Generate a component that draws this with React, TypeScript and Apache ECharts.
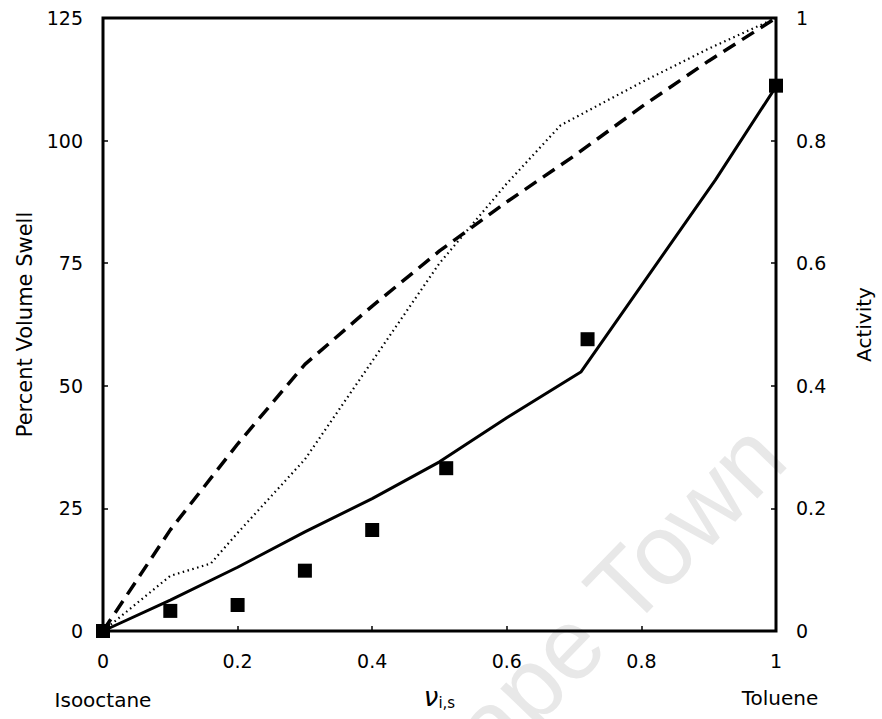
import React, { useEffect, useRef } from "react";
import * as echarts from "echarts";

// Measured percent volume swell (squares)
const xMeasured = [0, 0.1, 0.2, 0.3, 0.4, 0.51, 0.72, 1.0];
const swellMeasured = [0, 4.1, 5.3, 12.3, 20.6, 33.2, 59.5, 111.2];

// Predicted swell (solid line)
const xModel = [0, 0.1, 0.2, 0.3, 0.4, 0.5, 0.6, 0.71, 0.91, 1.0];
const swellModel = [0, 6.3, 13, 20.2, 27, 34.5, 43.5, 52.8, 92, 111];

// Activity (dashed line)
const xDashed = [0, 0.1, 0.2, 0.3, 0.4, 0.5, 0.6, 0.7, 0.8, 0.9, 1];
const activityDashed = [0, 0.165, 0.305, 0.435, 0.53, 0.62, 0.70, 0.775, 0.855, 0.93, 1];

// Activity (dotted line)
const xDotted = [0, 0.1, 0.16, 0.2, 0.3, 0.4, 0.5, 0.6, 0.68, 0.8, 0.9, 1];
const activityDotted = [0, 0.09, 0.11, 0.16, 0.28, 0.44, 0.60, 0.73, 0.825, 0.895, 0.95, 1];

const xTicks = { min: 0, max: 1, interval: 0.2 };
const swellTicks = { min: 0, max: 125, interval: 25 };
const activityTicks = { min: 0, max: 1, interval: 0.2 };

const FONT = "DejaVu Sans";

const zip = (xs: number[], ys: number[]) => xs.map((x, i) => [x, ys[i]]);

export default function App() {
  const ref = useRef<HTMLDivElement>(null);
  useEffect(() => {
    if (!ref.current) return;
    const chart = echarts.init(ref.current, null, { renderer: "svg" });
    const labelStyle = { color: "#000", fontSize: 19, fontFamily: FONT, margin: 20 };
    const tick = { show: true, inside: true, length: 5, lineStyle: { color: "#000", width: 1.5 } };
    chart.setOption({
      animation: false,
      backgroundColor: "#fff",
      grid: {
        left: 103,
        right: 102,
        top: 18,
        bottom: 88,
        show: true,
        borderColor: "#000",
        borderWidth: 3,
        containLabel: false,
      },
      xAxis: {
        type: "value",
        ...xTicks,
        name: "{v|ν}{s|i,s}",
        nameLocation: "middle",
        nameGap: 52,
        nameTextStyle: {
          rich: {
            v: { fontSize: 26, fontFamily: FONT, fontStyle: "italic", color: "#000" },
            s: { fontSize: 15, fontFamily: FONT, color: "#000", verticalAlign: "bottom", padding: [12, 0, 0, 0] },
          },
        },
        axisLine: { show: false },
        axisTick: tick,
        splitLine: { show: false },
        axisLabel: labelStyle,
      },
      yAxis: [
        {
          type: "value",
          ...swellTicks,
          name: "Percent Volume Swell",
          nameLocation: "middle",
          nameGap: 55,
          nameRotate: 90,
          nameTextStyle: { color: "#000", fontSize: 21, fontFamily: FONT },
          axisLine: { show: false },
          axisTick: tick,
          splitLine: { show: false },
          axisLabel: labelStyle,
        },
        {
          type: "value",
          position: "right",
          ...activityTicks,
          name: "Activity",
          nameLocation: "middle",
          nameGap: 78,
          nameRotate: 90,
          nameTextStyle: { color: "#000", fontSize: 20, fontFamily: FONT },
          axisLine: { show: false },
          axisTick: tick,
          splitLine: { show: false },
          axisLabel: labelStyle,
        },
      ],
      graphic: [
        {
          type: "text",
          x: 802,
          y: 474,
          rotation: (46 * Math.PI) / 180,
          z: -10,
          silent: true,
          style: {
            text: "Cape Town",
            fontSize: 100,
            fontFamily: "Liberation Sans",
            fill: "#e8e8e8",
            textAlign: "right",
            textVerticalAlign: "bottom",
          },
        },
        {
          type: "text",
          x: 103,
          y: 700,
          style: { text: "Isooctane", fontSize: 20, fontFamily: FONT, fill: "#000", textAlign: "center", textVerticalAlign: "middle" },
        },
        {
          type: "text",
          x: 780,
          y: 698,
          style: { text: "Toluene", fontSize: 20, fontFamily: FONT, fill: "#000", textAlign: "center", textVerticalAlign: "middle" },
        },
      ],
      series: [
        {
          type: "line",
          yAxisIndex: 1,
          data: zip(xDashed, activityDashed),
          symbol: "none",
          lineStyle: { color: "#000", width: 3.5, type: [14, 8] },
          z: 2,
        },
        {
          type: "line",
          yAxisIndex: 1,
          data: zip(xDotted, activityDotted),
          symbol: "none",
          lineStyle: { color: "#000", width: 2.2, type: [1.5, 3.5] },
          z: 2,
        },
        {
          type: "line",
          yAxisIndex: 0,
          data: zip(xModel, swellModel),
          symbol: "none",
          lineStyle: { color: "#000", width: 3 },
          z: 3,
        },
        {
          type: "scatter",
          yAxisIndex: 0,
          data: zip(xMeasured, swellMeasured),
          symbol: "rect",
          symbolSize: 14,
          clip: false,
          itemStyle: { color: "#000", opacity: 1 },
          z: 4,
        },
      ],
    });
    return () => chart.dispose();
  }, []);
  return <div ref={ref} style={{ position: "fixed", left: 0, top: 0, width: 882, height: 719 }} />;
}
